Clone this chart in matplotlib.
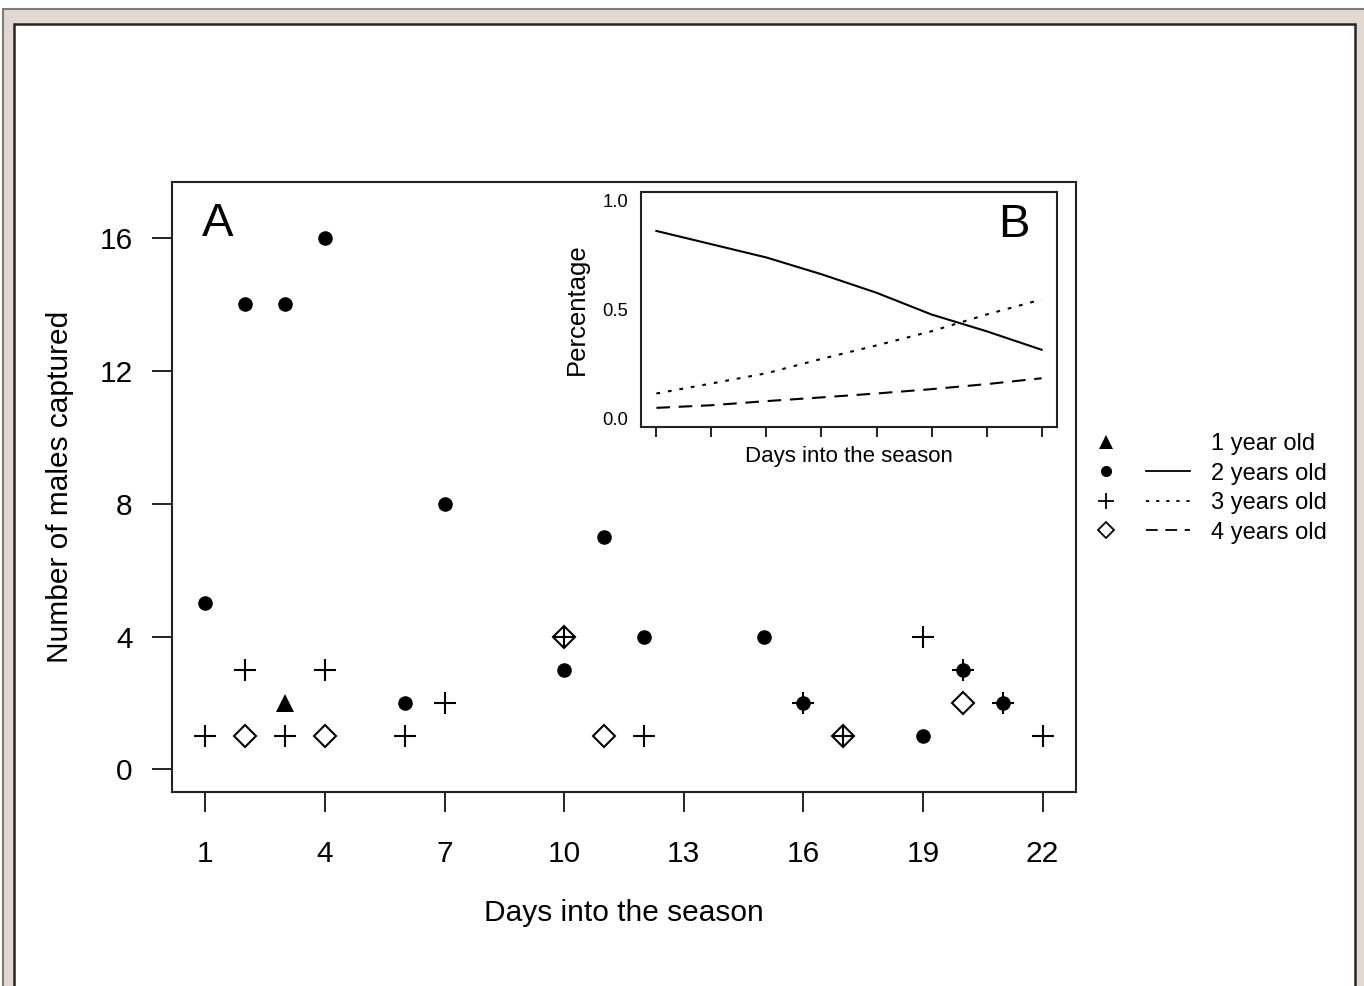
import matplotlib
matplotlib.use('Agg')
from matplotlib import pyplot as plt
from matplotlib.lines import Line2D
from matplotlib.patches import Rectangle
from matplotlib.legend_handler import HandlerTuple

plt.rcParams['font.family'] = ['Liberation Sans', 'DejaVu Sans']

# panel A: counts of captured males per day, by age class
days_1yr = [3]
count_1yr = [2]
days_2yr = [1, 2, 3, 4, 6, 7, 10, 11, 12, 15, 16, 19, 20, 21]
count_2yr = [5, 14, 14, 16, 2, 8, 3, 7, 4, 4, 2, 1, 3, 2]
days_3yr = [1, 2, 3, 4, 6, 7, 10, 12, 16, 17, 19, 20, 21, 22]
count_3yr = [1, 3, 1, 3, 1, 2, 4, 1, 2, 1, 4, 3, 2, 1]
days_4yr = [2, 4, 10, 11, 17, 20]
count_4yr = [1, 1, 4, 1, 1, 2]

x_ticks = [1, 4, 7, 10, 13, 16, 19, 22]
y_ticks = [0, 4, 8, 12, 16]

# panel B: fitted proportions by age class
days_b = [1, 4, 7, 10, 13, 16, 19, 22]
prop_2yr = [0.861, 0.800, 0.739, 0.662, 0.577, 0.477, 0.400, 0.315]
prop_3yr = [0.114, 0.160, 0.207, 0.273, 0.335, 0.400, 0.477, 0.546]
prop_4yr = [0.048, 0.060, 0.079, 0.096, 0.114, 0.134, 0.157, 0.184]

labels = ['1 year old', '2 years old', '3 years old', '4 years old']

W, H = 1364, 986
fig = plt.figure(figsize=(W / 100, H / 100), dpi=100)
fig.patch.set_facecolor('white')


def px(x, y):
    return x / W, 1 - y / H


# page frame around the figure
x0, y0 = px(3, 9)
fig.add_artist(Rectangle((x0, -0.1), 1.2, y0 + 0.1, transform=fig.transFigure,
                         facecolor='#e1d9d1', edgecolor='#857a72', lw=1.5, zorder=-10))
x1, y1 = px(14, 24)
x2, _ = px(1355, 0)
fig.add_artist(Rectangle((x1, -0.1), x2 - x1, y1 + 0.1, transform=fig.transFigure,
                         facecolor='white', edgecolor='#282424', lw=1.8, zorder=-9))

# main panel
l, t = px(172, 182)
r, b = px(1076, 792)
ax = fig.add_axes([l, b, r - l, t - b])
ax.plot(days_2yr, count_2yr, 'o', color='black', ms=10.5, mew=0, zorder=3)
ax.plot(days_3yr, count_3yr, '+', color='black', ms=16, mew=1.5, zorder=3)
ax.plot(days_4yr, count_4yr, 'D', color='black', mfc='none', ms=11, mew=1.5, zorder=3)
ax.plot(days_1yr, count_1yr, '^', color='black', ms=13, mew=0, zorder=3)

ax.set_xlim(0.16, 22.84)
ax.set_ylim(-0.68, 17.68)
ax.set_xticks(x_ticks)
ax.set_yticks(y_ticks)
ax.tick_params(direction='out', length=14.4, width=1.4, labelsize=21.5, color='#222222')
ax.tick_params(axis='x', pad=20)
ax.tick_params(axis='y', pad=14)
for s in ax.spines.values():
    s.set_linewidth(1.5)
    s.set_color('#222222')
ax.set_xlabel('Days into the season', fontsize=21.5, va='center')
ax.xaxis.set_label_coords(0.5, (792 - 913) / 610)
ax.set_ylabel('Number of males captured', fontsize=21.5, va='center')
ax.yaxis.set_label_coords((60 - 172) / 904, 0.5)
ax.text((202 - 172) / 904, 1 - (236 - 182) / 610, 'A', transform=ax.transAxes,
        fontsize=34, ha='left', va='baseline')

# inset panel
l, t = px(641, 192)
r, b = px(1057, 427)
axb = fig.add_axes([l, b, r - l, t - b], zorder=5)
axb.set_facecolor('white')
axb.plot(days_b, prop_2yr, color='black', lw=1.5, linestyle='-')
axb.plot(days_b, prop_3yr, color='black', lw=1.5, linestyle=(0, (1.8, 3.8)))
axb.plot(days_b, prop_4yr, color='black', lw=1.5, linestyle=(0, (6.5, 4.2)))
axb.set_xlim(0.16, 22.84)
axb.set_ylim(-0.04, 1.04)
axb.set_xticks(x_ticks)
axb.set_xticklabels([])
axb.set_yticks([0.0, 0.5, 1.0])
axb.set_yticklabels(['0.0', '0.5', '1.0'])
axb.tick_params(axis='x', direction='out', length=7.2, width=1.4, color='#222222')
axb.tick_params(axis='y', length=0, pad=9, labelsize=13.3)
for s in axb.spines.values():
    s.set_linewidth(1.5)
    s.set_color('#222222')
axb.set_xlabel('Days into the season', fontsize=16, va='center')
axb.xaxis.set_label_coords(0.5, (427 - 457) / 235)
axb.set_ylabel('Percentage', fontsize=18.5, va='center')
axb.yaxis.set_label_coords((577 - 641) / 416, 0.5)
axb.text((1030 - 641) / 416, 1 - (237 - 192) / 235, 'B', transform=axb.transAxes,
         fontsize=34, ha='right', va='baseline')

# legend outside the panels
blank = Line2D([], [], linestyle='none')
h_tri = Line2D([], [], marker='^', color='black', linestyle='none', ms=10, mew=0)
h_dot = Line2D([], [], marker='o', color='black', linestyle='none', ms=8, mew=0)
h_plus = Line2D([], [], marker='+', color='black', linestyle='none', ms=12, mew=1.3)
h_dia = Line2D([], [], marker='D', color='black', mfc='none', linestyle='none', ms=8.5, mew=1.3)
l_solid = Line2D([], [], color='black', lw=1.3, linestyle='-')
l_dot = Line2D([], [], color='black', lw=1.3, linestyle=(0, (1.8, 3.8)))
l_dash = Line2D([], [], color='black', lw=1.3, linestyle=(0, (6.5, 4.2)))
handles = [(h_tri, blank), (h_dot, l_solid), (h_plus, l_dot), (h_dia, l_dash)]
lx, ly = px(1083.5, 433)
fig.legend(handles, labels, loc='upper left', bbox_to_anchor=(lx, ly),
           bbox_transform=fig.transFigure, frameon=False, fontsize=17,
           borderpad=0, borderaxespad=0, handlelength=4.53, handletextpad=0.88,
           labelspacing=0.32, handler_map={tuple: HandlerTuple(ndivide=None, pad=0.74)})

plt.savefig('out.png', dpi=100)
